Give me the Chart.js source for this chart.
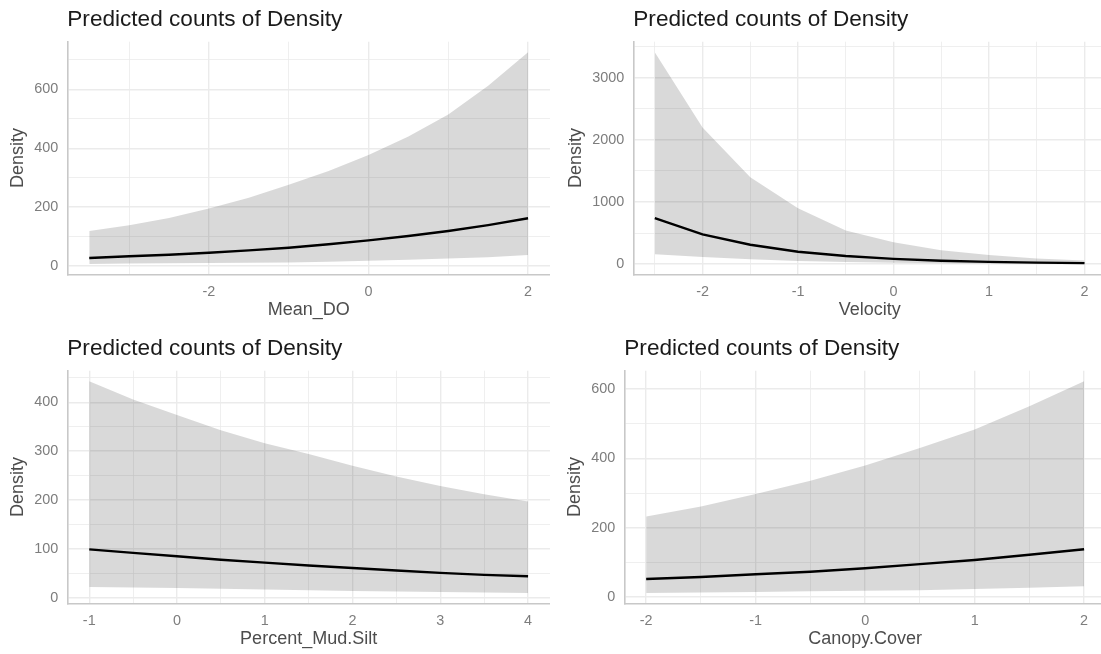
<!DOCTYPE html>
<html>
<head>
<meta charset="utf-8">
<script src="https://cdn.jsdelivr.net/npm/chart.js@4.4.1/dist/chart.umd.min.js"></script>
<style>
  html, body { margin: 0; padding: 0; background: #ffffff; overflow: hidden; width: 1101px; height: 654px; }
  .panel { position: absolute; }
</style>
</head>
<body>
<div class="panel" style="left:0px;top:0px"><canvas id="pDO" width="550" height="325"></canvas></div>
<div class="panel" style="left:550px;top:0px"><canvas id="pVel" width="556" height="325"></canvas></div>
<div class="panel" style="left:0px;top:329px"><canvas id="pMud" width="550" height="325"></canvas></div>
<div class="panel" style="left:550px;top:329px"><canvas id="pCan" width="556" height="325"></canvas></div>
<script>
// Predicted Density against Mean_DO
const doX    = [-3.5, -3, -2.5, -2, -1.5, -1, -0.5, 0, 0.5, 1, 1.5, 2];
const doFit  = [27, 33, 38, 45, 53, 62, 74, 87, 102, 119, 139, 162];
const doLow  = [7, 8, 9, 10, 11, 12, 14, 18, 21, 25, 30, 37];
const doHigh = [119, 138, 163, 195, 232, 276, 323, 377, 440, 515, 612, 726];

// Predicted Density against Velocity
const velX    = [-2.5, -2, -1.5, -1, -0.5, 0, 0.5, 1, 1.5, 2];
const velFit  = [741, 478, 312, 200, 130, 85, 55, 36, 24, 15];
const velLow  = [160, 113, 78, 52, 34, 22, 13, 8, 5, 3];
const velHigh = [3410, 2200, 1400, 900, 540, 350, 225, 145, 92, 58];

// Predicted Density against Percent_Mud.Silt
const mudX    = [-1, -0.5, 0, 0.5, 1, 1.5, 2, 2.5, 3, 3.5, 4];
const mudFit  = [99, 92, 85, 78, 72, 66, 61, 56, 51, 47, 44];
const mudLow  = [22, 21, 20, 18.5, 17, 15.5, 14, 13, 12, 11, 10];
const mudHigh = [443, 406, 374, 343, 316, 294, 270, 248, 229, 212, 197];

// Predicted Density against Canopy.Cover
const canX    = [-2, -1.5, -1, -0.5, 0, 0.5, 1, 1.5, 2];
const canFit  = [52, 58, 66, 73, 83, 95, 107, 122, 138];
const canLow  = [12, 13, 15, 16.5, 18, 20, 23, 27, 31];
const canHigh = [232, 261, 297, 335, 379, 430, 483, 550, 622];

// Axis breaks (labelled) and minor breaks (grid only)
const doXBreaks  = [-2, 0, 2];            const doXMinor  = [-3, -1, 1];
const doYBreaks  = [0, 200, 400, 600];    const doYMinor  = [100, 300, 500, 700];
const velXBreaks = [-2, -1, 0, 1, 2];     const velXMinor = [-2.5, -1.5, -0.5, 0.5, 1.5];
const velYBreaks = [0, 1000, 2000, 3000]; const velYMinor = [500, 1500, 2500, 3500];
const mudXBreaks = [-1, 0, 1, 2, 3, 4];   const mudXMinor = [-0.5, 0.5, 1.5, 2.5, 3.5];
const mudYBreaks = [0, 100, 200, 300, 400]; const mudYMinor = [50, 150, 250, 350, 450];
const canXBreaks = [-2, -1, 0, 1, 2];     const canXMinor = [-1.5, -0.5, 0.5, 1.5];
const canYBreaks = [0, 200, 400, 600];    const canYMinor = [100, 300, 500];

const plotTitle = 'Predicted counts of Density';
const yTitle = 'Density';

Chart.defaults.font.family = '"Liberation Sans", Arial, Helvetica, sans-serif';

// 5% expansion on both sides of the data range
function expand(lo, hi) {
  const d = (hi - lo) * 0.05;
  return [lo - d, hi + d];
}

function pts(xs, ys) {
  return xs.map((v, i) => ({ x: v, y: ys[i] }));
}

function axisTicks(major, minor) {
  return major.concat(minor).sort((a, b) => a - b).map(v => ({ value: v }));
}

function makePanel(id, p) {
  const [xMin, xMax] = expand(Math.min(...p.x), Math.max(...p.x));
  const [yMin, yMax] = expand(Math.min(...p.low), Math.max(...p.high));
  const gridWidth = major => ctx => (ctx.tick && major.includes(ctx.tick.value)) ? 1.4 : 0.8;

  new Chart(document.getElementById(id), {
    type: 'line',
    data: {
      datasets: [
        { data: pts(p.x, p.fit), borderColor: '#000000', borderWidth: 2.4, pointRadius: 0, fill: false, tension: 0 },
        { data: pts(p.x, p.low), borderWidth: 0, borderColor: 'rgba(0,0,0,0)', pointRadius: 0, fill: false, tension: 0 },
        { data: pts(p.x, p.high), borderWidth: 0, borderColor: 'rgba(0,0,0,0)', pointRadius: 0,
          fill: 1, backgroundColor: 'rgba(0,0,0,0.15)', tension: 0 }
      ]
    },
    options: {
      responsive: false,
      animation: false,
      events: [],
      layout: { padding: 0 },
      plugins: {
        legend: { display: false },
        tooltip: { enabled: false },
        title: {
          display: true, text: plotTitle, align: 'start', fullSize: false,
          color: '#1a1a1a', font: { size: 22.6, weight: 'normal' },
          padding: { top: 5.9, bottom: 8.7 }
        }
      },
      scales: {
        x: {
          type: 'linear', min: xMin, max: xMax,
          afterBuildTicks: s => { s.ticks = axisTicks(p.xBreaks, p.xMinor); },
          afterFit: s => { s.height = 50.5; },
          grid: { color: '#ebebeb', lineWidth: gridWidth(p.xBreaks), drawTicks: false },
          border: { display: true, color: '#c8c8c8', width: 1.6 },
          ticks: {
            autoSkip: false, maxRotation: 0, padding: 8.4, color: '#7d7d7d', font: { size: 14.4 },
            callback: v => p.xBreaks.includes(v) ? String(v) : ''
          },
          title: { display: true, text: p.xTitle, color: '#4d4d4d', font: { size: 18 }, padding: { top: 0, bottom: 4.4 } }
        },
        y: {
          type: 'linear', min: yMin, max: yMax,
          afterBuildTicks: s => { s.ticks = axisTicks(p.yBreaks, p.yMinor); },
          afterFit: s => { s.width = p.axisW; },
          grid: { color: '#ebebeb', lineWidth: gridWidth(p.yBreaks), drawTicks: false },
          border: { display: true, color: '#c8c8c8', width: 1.6 },
          ticks: {
            autoSkip: false, padding: 9, color: '#7d7d7d', font: { size: 14.4 },
            callback: v => p.yBreaks.includes(v) ? String(v) : ''
          },
          title: { display: true, text: yTitle, color: '#4d4d4d', font: { size: 18 }, padding: { top: p.yTitlePad, bottom: 0 } }
        }
      }
    }
  });
}

makePanel('pDO', { x: doX, fit: doFit, low: doLow, high: doHigh, xTitle: 'Mean_DO',
  xBreaks: doXBreaks, xMinor: doXMinor, yBreaks: doYBreaks, yMinor: doYMinor, axisW: 67.3, yTitlePad: 7.2 });
makePanel('pVel', { x: velX, fit: velFit, low: velLow, high: velHigh, xTitle: 'Velocity',
  xBreaks: velXBreaks, xMinor: velXMinor, yBreaks: velYBreaks, yMinor: velYMinor, axisW: 83.3, yTitlePad: 15.2 });
makePanel('pMud', { x: mudX, fit: mudFit, low: mudLow, high: mudHigh, xTitle: 'Percent_Mud.Silt',
  xBreaks: mudXBreaks, xMinor: mudXMinor, yBreaks: mudYBreaks, yMinor: mudYMinor, axisW: 67.3, yTitlePad: 7.2 });
makePanel('pCan', { x: canX, fit: canFit, low: canLow, high: canHigh, xTitle: 'Canopy.Cover',
  xBreaks: canXBreaks, xMinor: canXMinor, yBreaks: canYBreaks, yMinor: canYMinor, axisW: 74.3, yTitlePad: 14.2 });
</script>
</body>
</html>
